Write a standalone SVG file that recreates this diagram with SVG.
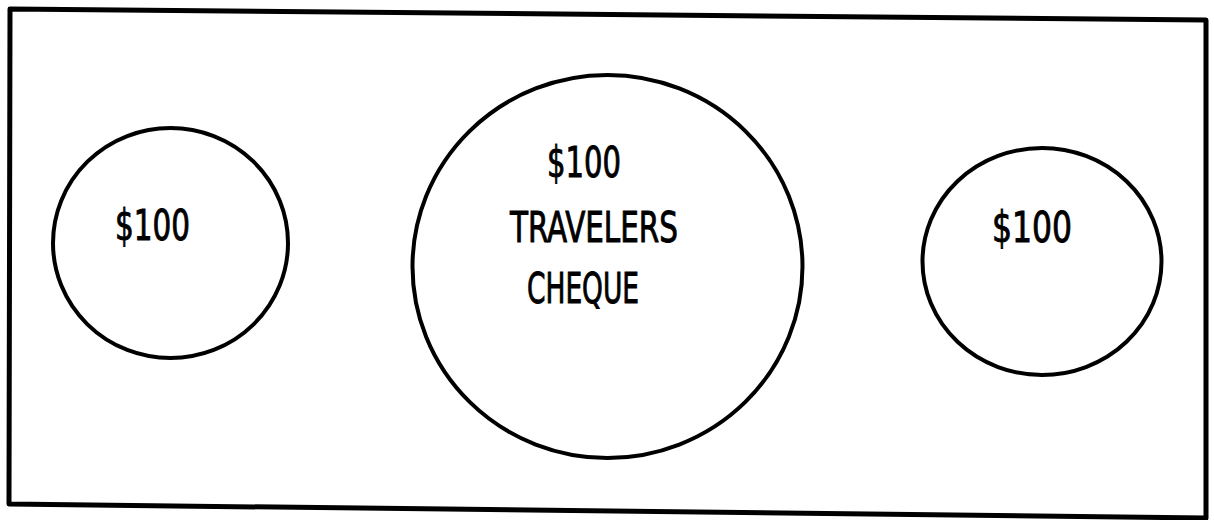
<svg xmlns="http://www.w3.org/2000/svg" width="1214" height="520" viewBox="0 0 1214 520">
<style>
.frame{fill:none;stroke:#000;stroke-width:5;stroke-linejoin:round}
.coin{fill:none;stroke:#000;stroke-width:4}
.lbl{font-family:"DejaVu Sans Condensed","Liberation Sans",sans-serif;font-size:42px;fill:#000;stroke:#000;stroke-width:0.9px}
</style>
<rect width="1214" height="520" fill="#fff"/>
<polygon id="frame" class="frame" points="10,9 1206,20 1206,518 9,504"/>
<g id="coin-left">
<ellipse class="coin" cx="170.5" cy="243" rx="117.5" ry="115"/>
<text class="lbl" x="115" y="240" textLength="75" lengthAdjust="spacingAndGlyphs">$100</text>
</g>
<g id="cheque">
<ellipse class="coin" cx="607.5" cy="266.5" rx="195" ry="191.5"/>
<text class="lbl" x="547" y="177" textLength="74" lengthAdjust="spacingAndGlyphs">$100</text>
<text class="lbl" x="510" y="242" textLength="168" lengthAdjust="spacingAndGlyphs">TRAVELERS</text>
<text class="lbl" x="527" y="303" textLength="112" lengthAdjust="spacingAndGlyphs">CHEQUE</text>
</g>
<g id="coin-right">
<ellipse class="coin" cx="1042" cy="261.5" rx="119.5" ry="113.5"/>
<text class="lbl" x="992" y="242" textLength="80" lengthAdjust="spacingAndGlyphs">$100</text>
</g>
<g id="connectors"></g>
</svg>
